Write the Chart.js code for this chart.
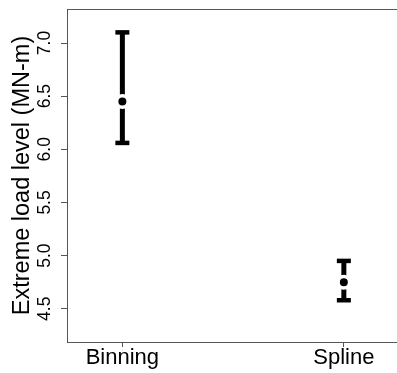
<!DOCTYPE html>
<html>
<head>
<meta charset="utf-8">
<script src="https://cdn.jsdelivr.net/npm/chart.js@4"></script>
<style>
  html, body { margin: 0; padding: 0; background: #fff; }
  #wrap { width: 397px; height: 373px; }
</style>
</head>
<body>
<div id="wrap"><canvas id="loadChart" width="397" height="373"></canvas></div>
<script>
// data
const categories = ['Binning', 'Spline'];
const lowerVals = [6.06, 4.58];
const meanVals = [6.45, 4.75];
const upperVals = [7.10, 4.95];
const yTicks = [4.5, 5.0, 5.5, 6.0, 6.5, 7.0];

const font = 'Liberation Sans, Arial, sans-serif';
const axisColor = '#555555';

// one line per category, from lower to upper value
const barSets = categories.map((c, i) => ({
  label: c + ' range',
  data: [{ x: i + 1, y: lowerVals[i] }, { x: i + 1, y: upperVals[i] }],
  showLine: true,
  borderColor: '#000',
  borderWidth: 5,
  pointStyle: 'line',
  pointRadius: 7,
  pointBorderWidth: 4.5,
  pointBorderColor: '#000',
  pointHoverRadius: 7,
  order: 2
}));

// top border of the box
const topLine = {
  id: 'topLine',
  afterDraw(chart) {
    const a = chart.chartArea;
    const ctx = chart.ctx;
    ctx.save();
    ctx.strokeStyle = axisColor;
    ctx.lineWidth = 1;
    ctx.beginPath();
    ctx.moveTo(a.left, a.top + 0.5);
    ctx.lineTo(a.right, a.top + 0.5);
    ctx.stroke();
    ctx.restore();
  }
};

// no extra room for labels sticking out of the box
function noPad(scale) {
  scale.paddingTop = 0;
  scale.paddingBottom = 0;
  scale.paddingLeft = 0;
  scale.paddingRight = 0;
}

const ctx = document.getElementById('loadChart').getContext('2d');
const loadChart = new Chart(ctx, {
  type: 'scatter',
  data: {
    datasets: [{
      label: 'mean',
      data: meanVals.map((v, i) => ({ x: i + 1, y: v })),
      pointRadius: 5.75,
      pointHoverRadius: 5.75,
      pointBackgroundColor: '#000',
      pointBorderColor: '#fff',
      pointBorderWidth: 3.5,
      order: 1
    }].concat(barSets)
  },
  options: {
    responsive: false,
    animation: false,
    layout: { autoPadding: false, padding: { top: 9, right: 0, left: 0, bottom: 0 } },
    plugins: {
      legend: { display: false },
      tooltip: { enabled: false }
    },
    scales: {
      x: {
        type: 'linear',
        min: 0.75,
        max: 2.24,
        afterBuildTicks: (scale) => { scale.ticks = categories.map((c, i) => ({ value: i + 1 })); },
        afterFit: (scale) => { scale.height = 31; noPad(scale); },
        border: { display: true, color: axisColor, width: 1 },
        grid: { drawOnChartArea: false, tickLength: 5, tickColor: axisColor },
        ticks: {
          autoSkip: false,
          maxRotation: 0,
          padding: -2,
          color: '#000',
          font: { family: font, size: 22 },
          callback: (v) => categories[v - 1] || ''
        }
      },
      y: {
        min: 4.187,
        max: 7.32,
        afterBuildTicks: (scale) => { scale.ticks = yTicks.map(v => ({ value: v })); },
        afterFit: (scale) => { scale.width = 67; noPad(scale); },
        border: { display: true, color: axisColor, width: 1 },
        grid: { drawOnChartArea: false, tickLength: 6, tickColor: axisColor },
        title: {
          display: true,
          text: 'Extreme load level (MN-m)',
          color: '#000',
          font: { family: font, size: 23.5 },
          padding: { top: 8, bottom: 0 }
        },
        ticks: {
          autoSkip: false,
          minRotation: 90,
          maxRotation: 90,
          crossAlign: 'center',
          padding: 4,
          color: '#000',
          font: { family: font, size: 17.5 },
          callback: (v) => v.toFixed(1)
        }
      }
    }
  },
  plugins: [topLine]
});
</script>
</body>
</html>
